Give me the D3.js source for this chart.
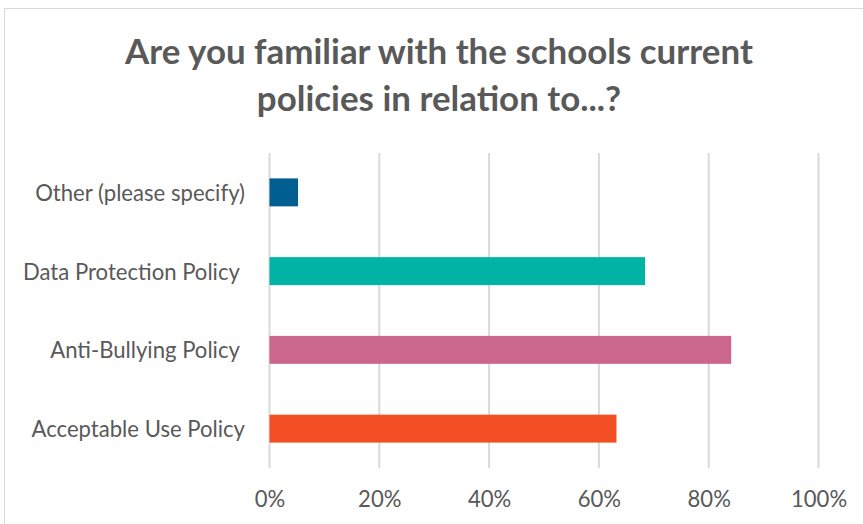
<!DOCTYPE html>
<html>
<head>
<meta charset="utf-8">
<script src="https://cdn.jsdelivr.net/npm/d3@7"></script>
<style>
  html, body { margin: 0; padding: 0; background: #ffffff; }
  svg { display: block; }
  text { font-family: Lato, "Liberation Sans", Arial, sans-serif; fill: #595959; white-space: pre; }
</style>
</head>
<body>
<svg id="chart" width="863" height="524"></svg>
<script>
// Survey responses: share of respondents familiar with each policy
// (two answer labels carry a trailing space, as exported from the survey)
const categories = [
  "Other (please specify)",
  "Data Protection Policy ",
  "Anti-Bullying Policy ",
  "Acceptable Use Policy"
];
const values = [0.052, 0.684, 0.841, 0.632];
const barColors = ["#005e91", "#00b4a5", "#ca678a", "#f24f25"];
const tickValues = [0, 0.2, 0.4, 0.6, 0.8, 1.0];
const titleLines = ["Are you familiar with the schools current", "policies in relation to...?"];

const svg = d3.select("#chart");
const W = 863, H = 524;

// chart frame
svg.append("rect")
  .attr("x", 4.5).attr("y", 8.5)
  .attr("width", W).attr("height", H)
  .attr("fill", "#ffffff")
  .attr("stroke", "#d9d9d9").attr("stroke-width", 1);

const plot = { left: 269.5, right: 818.5, top: 153, bottom: 468 };

const x = d3.scaleLinear().domain([0, 1]).range([plot.left, plot.right]);
const y = d3.scaleBand().domain(categories).range([plot.top, plot.bottom]).padding(0);
const barH = y.bandwidth() * 0.355;

// sizes a text element so its rendered width equals the target width
function fitWidth(sel, target, base) {
  sel.style("font-size", base + "px");
  const w = sel.node().getComputedTextLength();
  const size = base * target / w;
  sel.style("font-size", size + "px");
  return size;
}

// title
const titleCx = 439;
const t1 = svg.append("text").attr("x", titleCx).attr("y", 63.5)
  .attr("text-anchor", "middle").style("font-weight", "bold").text(titleLines[0]);
const titleSize = fitWidth(t1, 628, 30);
svg.append("text").attr("x", titleCx).attr("y", 110.5)
  .attr("text-anchor", "middle").style("font-weight", "bold")
  .style("font-size", titleSize + "px").text(titleLines[1]);

// vertical gridlines
svg.append("g").selectAll("line").data(tickValues).join("line")
  .attr("x1", d => x(d)).attr("x2", d => x(d))
  .attr("y1", plot.top).attr("y2", plot.bottom)
  .attr("stroke", "#d9d9d9").attr("stroke-width", 2);

// bars
svg.append("g").selectAll("rect").data(categories).join("rect")
  .attr("x", x(0))
  .attr("y", d => y(d) + (y.bandwidth() - barH) / 2)
  .attr("width", (d, i) => x(values[i]) - x(0))
  .attr("height", barH)
  .attr("fill", (d, i) => barColors[i]);

// category axis (labels only)
const yAxis = d3.axisLeft(y).tickSize(0).tickPadding(0);
const gy = svg.append("g").attr("transform", "translate(245,0)").call(yAxis);
gy.select(".domain").remove();
gy.selectAll("text").attr("fill", null).style("font-family", null).attr("dy", null)
  .attr("dominant-baseline", "central");
const probe = gy.selectAll("text").filter(d => d === categories[0]);
const labelSize = fitWidth(probe, 210, 20);
gy.selectAll("text").style("font-size", labelSize + "px");

// value axis (tick labels only)
const xAxis = d3.axisBottom(x).tickValues(tickValues).tickFormat(d3.format(".0%"))
  .tickSize(0).tickPadding(0);
const gx = svg.append("g").attr("transform", "translate(0,498)").call(xAxis);
gx.select(".domain").remove();
gx.selectAll("text").attr("fill", null).style("font-family", null).attr("dy", null).attr("y", 0)
  .attr("dominant-baseline", "central")
  .style("font-size", labelSize + "px");
</script>
</body>
</html>
